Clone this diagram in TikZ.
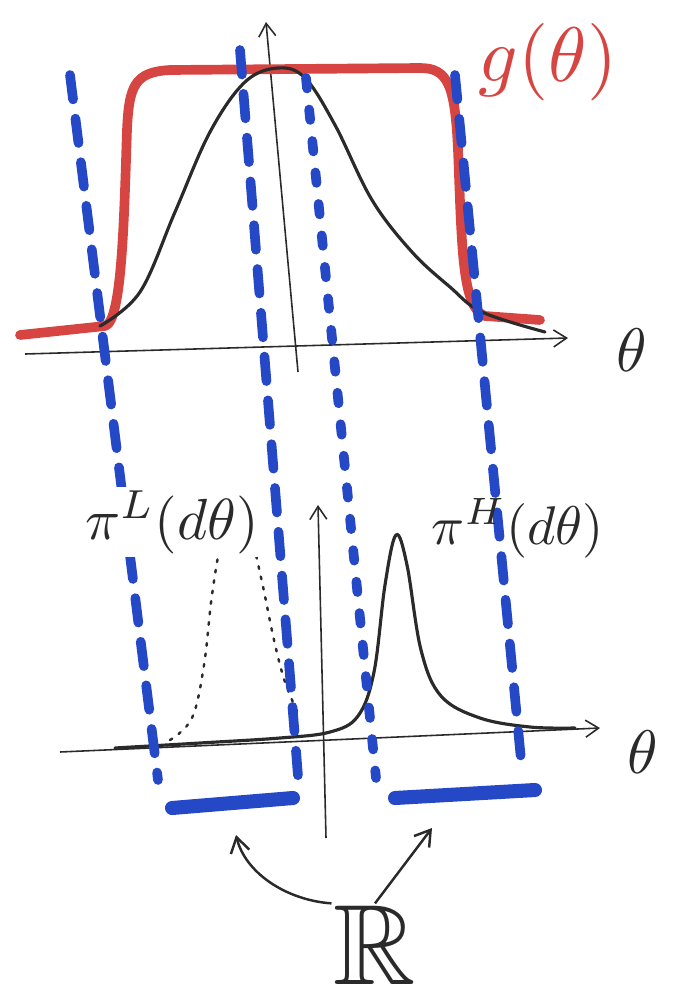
\documentclass[tikz,border=0pt]{standalone}
\usepackage{amssymb}
\usetikzlibrary{arrows.meta}
\definecolor{rot}{HTML}{D64541}
\definecolor{blau}{HTML}{2448C6}
\definecolor{tinte}{HTML}{2A2A2A}
\tikzset{
  ax/.style={-{Straight Barb[length=2.6mm,width=3.4mm]},tinte,line width=0.9pt},
  gkurve/.style={rot,line width=5.5pt,line cap=round,line join=round},
  dichte/.style={tinte,line width=1.8pt,line cap=round},
  dichtep/.style={tinte,line width=1.4pt,dash pattern=on 1.5pt off 4.5pt,line cap=round},
  grenze/.style={blau,line width=5.5pt,dash pattern=on 14pt off 11pt,line cap=round},
  grenzep/.style={blau,line width=5.5pt,dash pattern=on 6pt off 12pt,line cap=round},
  band/.style={blau,line width=8pt,line cap=round},
  pfeil/.style={-{Straight Barb[length=3mm,width=3.8mm]},tinte,line width=1.4pt},
}
\begin{document}
\begin{tikzpicture}[x=0.2mm,y=-0.2mm]
  \useasboundingbox (0,0) rectangle (677,997);
  % oberes Bild
  \draw[ax] (25,354)--(568,338);
  \draw[ax] (298,372)--(266,22);
  \draw[gkurve] (20,335)--(105,326) .. controls (122,322) and (124,220) .. (127,130)
    .. controls (129,85) and (135,72) .. (170,70)--(420,68)
    .. controls (448,68) and (455,85) .. (458,150)
    .. controls (462,250) and (462,308) .. (485,316)--(540,320);
  \draw[dichte] plot[smooth,tension=0.6] coordinates {(100,326) (140,292) (175,212) (210,132) (245,82) (278,68) (305,78) (335,125) (372,200) (412,252) (450,287) (482,312) (545,332)};
  % unteres Bild
  \draw[ax] (60,752)--(600,728);
  \draw[ax] (326,838)--(318,505);
  \draw[dichte] plot[smooth,tension=0.6] coordinates {(115,748) (200,743) (280,738) (330,732) (358,716) (374,672) (385,585) (396,535) (407,565) (421,650) (441,696) (480,718) (530,727) (575,728)};
  \draw[dichtep] plot[smooth,tension=0.6] coordinates {(170,740) (192,718) (204,665) (212,595) (222,540) (236,518) (250,534) (262,582) (274,640) (285,682) (300,718)};
  % Grenzen
  \draw[grenze] (70,75)--(158,780);
  \draw[grenze] (240,50)--(298,776);
  \draw[grenzep] (306,78)--(376,778);
  \draw[grenze] (455,75)--(522,770);
  \draw[band] (172,808)--(293,798);
  \draw[band] (395,798)--(535,790);
  % Beschriftungen
  \node[rot,scale=4.4] (glabel) at (548,62) {$g(\theta)$};
  \node[tinte,scale=3.5] (thoben) at (632,350) {$\theta$};
  \node[tinte,scale=3.5] (thunten) at (643,752) {$\theta$};
  \node[tinte,scale=3.3,fill=white,inner sep=0.5pt] (piL) at (172,522) {$\pi^L(d\theta)$};
  \node[tinte,scale=3.1] (piH) at (518,528) {$\pi^H(d\theta)$};
  \node[tinte,scale=6.5,inner sep=0pt] (R) at (375,945) {$\mathbb{R}$};
  \coordinate (zielL) at (236,835);
  \coordinate (zielH) at (432,828);
  \draw[pfeil] (R.north west) .. controls (285,900) and (245,872) .. (zielL);
  \draw[pfeil] (R.north) -- (zielH);
\end{tikzpicture}
\end{document}
